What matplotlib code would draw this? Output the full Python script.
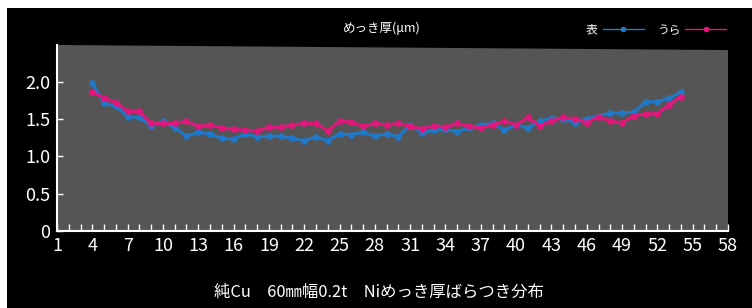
# =========================
# NI PLATING THICKNESS SPREAD (PURE CU, 60mm WIDTH, 0.2t)
# =========================
import matplotlib
matplotlib.use("Agg")
import matplotlib.pyplot as plt
from matplotlib.patches import Polygon, Rectangle

plt.rcParams["font.family"] = ["Noto Sans CJK JP", "DejaVu Sans"]

# =========================
# DATA
# =========================
POSITIONS = list(range(4, 55))

OMOTE = [1.98, 1.71, 1.67, 1.53, 1.52, 1.41, 1.47, 1.38, 1.27, 1.32,
         1.30, 1.24, 1.23, 1.30, 1.26, 1.27, 1.27, 1.24, 1.21, 1.26,
         1.21, 1.30, 1.29, 1.32, 1.27, 1.30, 1.26, 1.42, 1.31, 1.35,
         1.36, 1.33, 1.38, 1.42, 1.44, 1.35, 1.42, 1.38, 1.47, 1.51,
         1.50, 1.45, 1.50, 1.54, 1.58, 1.58, 1.59, 1.73, 1.73, 1.78,
         1.86]

URA = [1.86, 1.78, 1.72, 1.60, 1.60, 1.44, 1.44, 1.44, 1.47, 1.40,
       1.42, 1.38, 1.36, 1.35, 1.34, 1.39, 1.39, 1.42, 1.44, 1.44,
       1.34, 1.47, 1.46, 1.40, 1.44, 1.42, 1.44, 1.40, 1.37, 1.41,
       1.39, 1.44, 1.40, 1.38, 1.42, 1.47, 1.42, 1.52, 1.41, 1.47,
       1.52, 1.50, 1.45, 1.53, 1.47, 1.45, 1.54, 1.57, 1.57, 1.69,
       1.80]

SERIES_LABELS = ["表", "うら"]
X_TICKS = list(range(1, 59))
X_TICK_LABELS = [str(T) if (T - 1) % 3 == 0 else "" for T in X_TICKS]
Y_TICKS = [0, 0.5, 1.0, 1.5, 2.0]
Y_TICK_LABELS = ["0", "0.5", "1.0", "1.5", "2.0"]

TITLE = "めっき厚(μm)"
CAPTION = "純Cu　60㎜幅0.2t　Niめっき厚ばらつき分布"

BLUE = "#1f78c8"
PINK = "#e0187c"
WALL = "#555555"

# =========================
# FIGURE
# =========================
FIG = plt.figure(figsize=(7.52, 3.08), dpi=100, facecolor="white")
FIG.patches.append(Rectangle((7 / 752, 0), 1 - 7 / 752, 1 - 8 / 308,
                             transform=FIG.transFigure, facecolor="black",
                             edgecolor="none", zorder=-10))

AX = FIG.add_axes([57 / 752, 1 - 231 / 308, 671 / 752, 186 / 308])
AX.set_zorder(1)
AX.set_facecolor("none")
AX.add_patch(Polygon([(0, 0), (1, 0), (1, 0.973), (0, 1)], closed=True,
                     transform=AX.transAxes, facecolor=WALL,
                     edgecolor="none", zorder=0))

AX.plot(POSITIONS, OMOTE, color=BLUE, lw=2.2, marker="o", ms=3.8,
        label=SERIES_LABELS[0], zorder=3)
AX.plot(POSITIONS, URA, color=PINK, lw=2.2, marker="o", ms=3.8,
        label=SERIES_LABELS[1], zorder=3)

AX.set_xlim(1, 58)
AX.set_ylim(0, 2.49)

AX.set_xticks(X_TICKS)
AX.set_xticklabels(X_TICK_LABELS)
AX.set_yticks(Y_TICKS)
AX.set_yticklabels(Y_TICK_LABELS)
AX.tick_params(axis="x", direction="in", length=5, width=1, colors="white",
               labelsize=13, pad=4)
AX.tick_params(axis="y", direction="in", length=4, width=1, colors="white",
               labelsize=13, pad=5)

for SIDE in ["top", "right"]:
    AX.spines[SIDE].set_visible(False)
for SIDE in ["left", "bottom"]:
    AX.spines[SIDE].set_color("white")
    AX.spines[SIDE].set_linewidth(1.5)

# =========================
# TEXTS + LEGEND
# =========================
FIG.text(382 / 752, 1 - 28 / 308, TITLE, color="white", fontsize=9,
         ha="center", va="center")

LEG = FIG.legend(loc="center right", bbox_to_anchor=(737 / 752, 1 - 30 / 308),
                 ncol=2, markerfirst=False, frameon=False, fontsize=8.5,
                 handlelength=3.5, columnspacing=1.1, handletextpad=0.4)
for TXT in LEG.get_texts():
    TXT.set_color("white")
for LINE in LEG.get_lines():
    LINE.set_linewidth(1)
    LINE.set_markersize(3)

FIG.text(379 / 752, 1 - 292 / 308, CAPTION, color="white", fontsize=11.8,
         ha="center", va="center")

FIG.savefig("out.png", dpi=100, facecolor=FIG.get_facecolor())
